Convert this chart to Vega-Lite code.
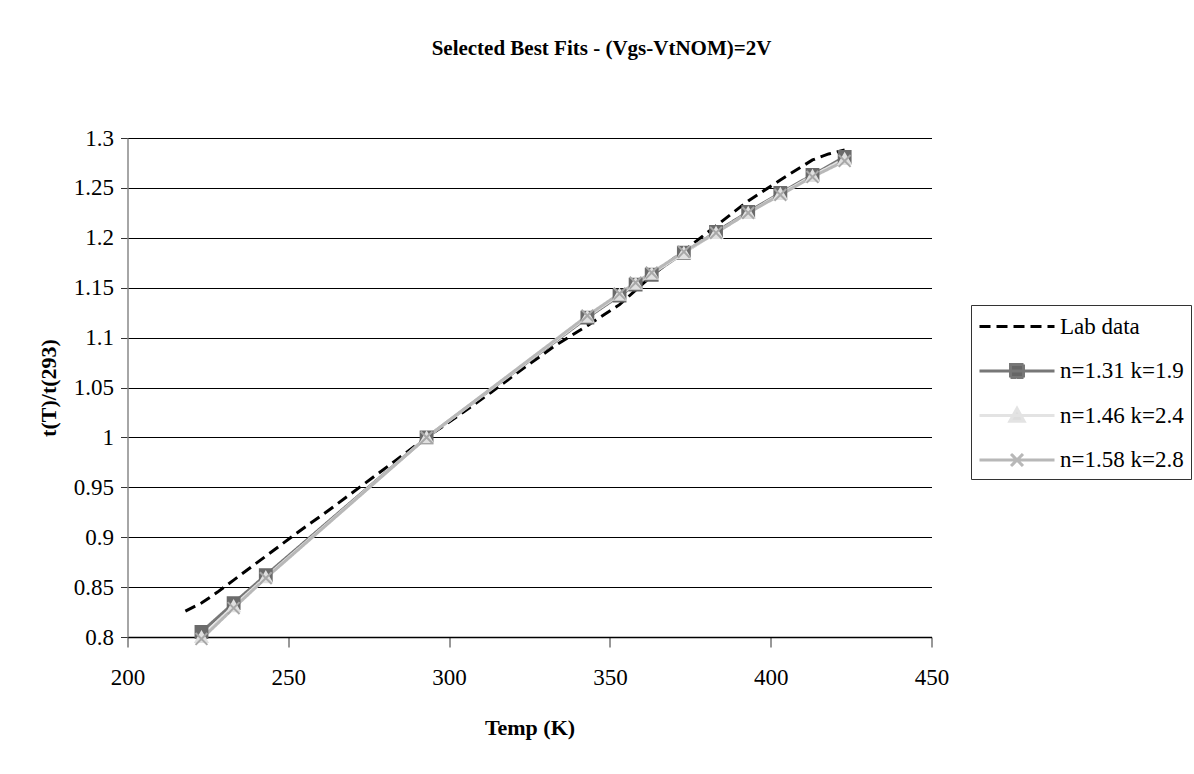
{
  "$schema": "https://vega.github.io/schema/vega-lite/v6.json",
  "width": 804,
  "height": 499,
  "autosize": {"type": "none"},
  "padding": {"left": 127.5, "top": 138, "right": 262.5, "bottom": 137},
  "background": "white",
  "title": {
    "text": "Selected Best Fits - (Vgs-VtNOM)=2V",
    "font": "Liberation Serif",
    "fontSize": 21,
    "fontWeight": "bold",
    "color": "black",
    "anchor": "middle",
    "dx": 72,
    "offset": 68
  },
  "data": {
    "values": [
      {"series": "Lab data", "T": 218, "v": 0.826},
      {"series": "Lab data", "T": 223, "v": 0.834},
      {"series": "Lab data", "T": 228, "v": 0.845},
      {"series": "Lab data", "T": 233, "v": 0.857},
      {"series": "Lab data", "T": 243, "v": 0.881},
      {"series": "Lab data", "T": 253, "v": 0.905},
      {"series": "Lab data", "T": 263, "v": 0.928},
      {"series": "Lab data", "T": 273, "v": 0.952},
      {"series": "Lab data", "T": 283, "v": 0.976},
      {"series": "Lab data", "T": 293, "v": 1.0},
      {"series": "Lab data", "T": 303, "v": 1.022},
      {"series": "Lab data", "T": 313, "v": 1.045},
      {"series": "Lab data", "T": 323, "v": 1.069},
      {"series": "Lab data", "T": 333, "v": 1.092},
      {"series": "Lab data", "T": 343, "v": 1.112},
      {"series": "Lab data", "T": 353, "v": 1.133},
      {"series": "Lab data", "T": 363, "v": 1.162},
      {"series": "Lab data", "T": 373, "v": 1.187},
      {"series": "Lab data", "T": 383, "v": 1.212},
      {"series": "Lab data", "T": 393, "v": 1.237},
      {"series": "Lab data", "T": 403, "v": 1.258},
      {"series": "Lab data", "T": 413, "v": 1.278},
      {"series": "Lab data", "T": 418, "v": 1.284},
      {"series": "Lab data", "T": 423, "v": 1.288},
      {"series": "n=1.31 k=1.9", "T": 223, "v": 0.805},
      {"series": "n=1.31 k=1.9", "T": 233, "v": 0.834},
      {"series": "n=1.31 k=1.9", "T": 243, "v": 0.862},
      {"series": "n=1.31 k=1.9", "T": 293, "v": 1.0},
      {"series": "n=1.31 k=1.9", "T": 343, "v": 1.12},
      {"series": "n=1.31 k=1.9", "T": 353, "v": 1.142},
      {"series": "n=1.31 k=1.9", "T": 358, "v": 1.153},
      {"series": "n=1.31 k=1.9", "T": 363, "v": 1.163},
      {"series": "n=1.31 k=1.9", "T": 373, "v": 1.185},
      {"series": "n=1.31 k=1.9", "T": 383, "v": 1.206},
      {"series": "n=1.31 k=1.9", "T": 393, "v": 1.226},
      {"series": "n=1.31 k=1.9", "T": 403, "v": 1.245},
      {"series": "n=1.31 k=1.9", "T": 413, "v": 1.263},
      {"series": "n=1.31 k=1.9", "T": 423, "v": 1.281},
      {"series": "n=1.46 k=2.4", "T": 223, "v": 0.8},
      {"series": "n=1.46 k=2.4", "T": 233, "v": 0.831},
      {"series": "n=1.46 k=2.4", "T": 243, "v": 0.86},
      {"series": "n=1.46 k=2.4", "T": 293, "v": 1.0},
      {"series": "n=1.46 k=2.4", "T": 343, "v": 1.121},
      {"series": "n=1.46 k=2.4", "T": 353, "v": 1.143},
      {"series": "n=1.46 k=2.4", "T": 358, "v": 1.154},
      {"series": "n=1.46 k=2.4", "T": 363, "v": 1.164},
      {"series": "n=1.46 k=2.4", "T": 373, "v": 1.185},
      {"series": "n=1.46 k=2.4", "T": 383, "v": 1.205},
      {"series": "n=1.46 k=2.4", "T": 393, "v": 1.225},
      {"series": "n=1.46 k=2.4", "T": 403, "v": 1.244},
      {"series": "n=1.46 k=2.4", "T": 413, "v": 1.262},
      {"series": "n=1.46 k=2.4", "T": 423, "v": 1.279},
      {"series": "n=1.58 k=2.8", "T": 223, "v": 0.798},
      {"series": "n=1.58 k=2.8", "T": 233, "v": 0.829},
      {"series": "n=1.58 k=2.8", "T": 243, "v": 0.859},
      {"series": "n=1.58 k=2.8", "T": 293, "v": 1.0},
      {"series": "n=1.58 k=2.8", "T": 343, "v": 1.122},
      {"series": "n=1.58 k=2.8", "T": 353, "v": 1.144},
      {"series": "n=1.58 k=2.8", "T": 358, "v": 1.155},
      {"series": "n=1.58 k=2.8", "T": 363, "v": 1.165},
      {"series": "n=1.58 k=2.8", "T": 373, "v": 1.186},
      {"series": "n=1.58 k=2.8", "T": 383, "v": 1.205},
      {"series": "n=1.58 k=2.8", "T": 393, "v": 1.225},
      {"series": "n=1.58 k=2.8", "T": 403, "v": 1.243},
      {"series": "n=1.58 k=2.8", "T": 413, "v": 1.261},
      {"series": "n=1.58 k=2.8", "T": 423, "v": 1.277}
    ]
  },
  "encoding": {
    "x": {
      "field": "T",
      "type": "quantitative",
      "scale": {"domain": [200, 450], "nice": false, "zero": false},
      "axis": {
        "title": "Temp (K)",
        "values": [200, 250, 300, 350, 400, 450],
        "grid": false,
        "tickSize": 10,
        "tickColor": "#333",
        "domainColor": "#000",
        "domainWidth": 1.5,
        "labelPadding": 19,
        "titlePadding": 28,
        "labelFlush": false
      }
    },
    "y": {
      "field": "v",
      "type": "quantitative",
      "scale": {"domain": [0.8, 1.3], "nice": false, "zero": false},
      "axis": {
        "title": "t(T)/t(293)",
        "values": [0.8, 0.85, 0.9, 0.95, 1, 1.05, 1.1, 1.15, 1.2, 1.25, 1.3],
        "format": "~g",
        "grid": true,
        "gridColor": "#000",
        "gridWidth": 1,
        "gridOpacity": 1,
        "tickSize": 7,
        "tickColor": "#333",
        "domainColor": "#888",
        "domainWidth": 1.5,
        "labelPadding": 7,
        "titlePadding": 13,
        "labelFlush": false
      }
    }
  },
  "layer": [
    {
      "mark": {"type": "line", "strokeWidth": 3, "clip": false},
      "encoding": {
        "color": {
          "field": "series",
          "type": "nominal",
          "scale": {
            "domain": ["Lab data", "n=1.31 k=1.9", "n=1.46 k=2.4", "n=1.58 k=2.8"],
            "range": ["#000000", "#777777", "#e3e3e3", "#b8b8b8"]
          },
          "legend": {
            "orient": "none",
            "legendX": 843.5,
            "legendY": 167,
            "title": null,
            "padding": 7,
            "rowPadding": 17.5,
            "labelOffset": 53,
            "symbolSize": 676,
            "symbolStrokeWidth": 3,
            "labelFont": "Liberation Serif",
            "labelFontSize": 23,
            "labelColor": "black",
            "labelLimit": 300,
            "strokeColor": "#333",
            "fillColor": "white",
            "encode": {
              "symbols": {
                "update": {
                  "shape": {"signal": "datum.value === 'Lab data' ? 'M-1,0H4.77' : datum.value === 'n=1.31 k=1.9' ? 'M-1,0H4.77M1.385,-0.5H2.385V0.5H1.385Z' : datum.value === 'n=1.46 k=2.4' ? 'M-1,0H4.77M1.885,-0.55L2.435,0.45H1.335Z' : 'M-1,0H4.77M1.425,-0.46L2.345,0.46M1.425,0.46L2.345,-0.46'"},
                  "fill": {"signal": "datum.value === 'n=1.31 k=1.9' ? '#666666' : datum.value === 'n=1.46 k=2.4' ? '#dddddd' : 'transparent'"}
                }
              }
            }
          }
        },
        "strokeDash": {
          "field": "series",
          "type": "nominal",
          "scale": {
            "domain": ["Lab data", "n=1.31 k=1.9", "n=1.46 k=2.4", "n=1.58 k=2.8"],
            "range": [[11, 6], [1, 0], [1, 0], [1, 0]]
          },
          "legend": null
        }
      }
    },
    {
      "transform": [{"filter": "datum.series !== 'Lab data'"}],
      "mark": {"type": "point", "filled": true, "size": 140, "strokeWidth": 2, "opacity": 1, "clip": false},
      "encoding": {
        "shape": {
          "field": "series",
          "type": "nominal",
          "scale": {
            "domain": ["n=1.31 k=1.9", "n=1.46 k=2.4", "n=1.58 k=2.8"],
            "range": ["square", "triangle-up", "M-1,-1L1,1M-1,1L1,-1"]
          },
          "legend": null
        },
        "fill": {
          "field": "series",
          "type": "nominal",
          "scale": {
            "domain": ["n=1.31 k=1.9", "n=1.46 k=2.4", "n=1.58 k=2.8"],
            "range": ["#6b6b6b", "#e0e0e0", "transparent"]
          },
          "legend": null
        },
        "stroke": {
          "field": "series",
          "type": "nominal",
          "scale": {
            "domain": ["n=1.31 k=1.9", "n=1.46 k=2.4", "n=1.58 k=2.8"],
            "range": ["#6b6b6b", "#e0e0e0", "#a8a8a8"]
          },
          "legend": null
        }
      }
    }
  ],
  "config": {
    "view": {"stroke": null},
    "font": "Liberation Serif",
    "axis": {
      "labelFont": "Liberation Serif",
      "labelFontSize": 23,
      "labelColor": "#000",
      "titleFont": "Liberation Serif",
      "titleFontSize": 22,
      "titleFontWeight": "bold",
      "titleColor": "#000"
    }
  }
}
